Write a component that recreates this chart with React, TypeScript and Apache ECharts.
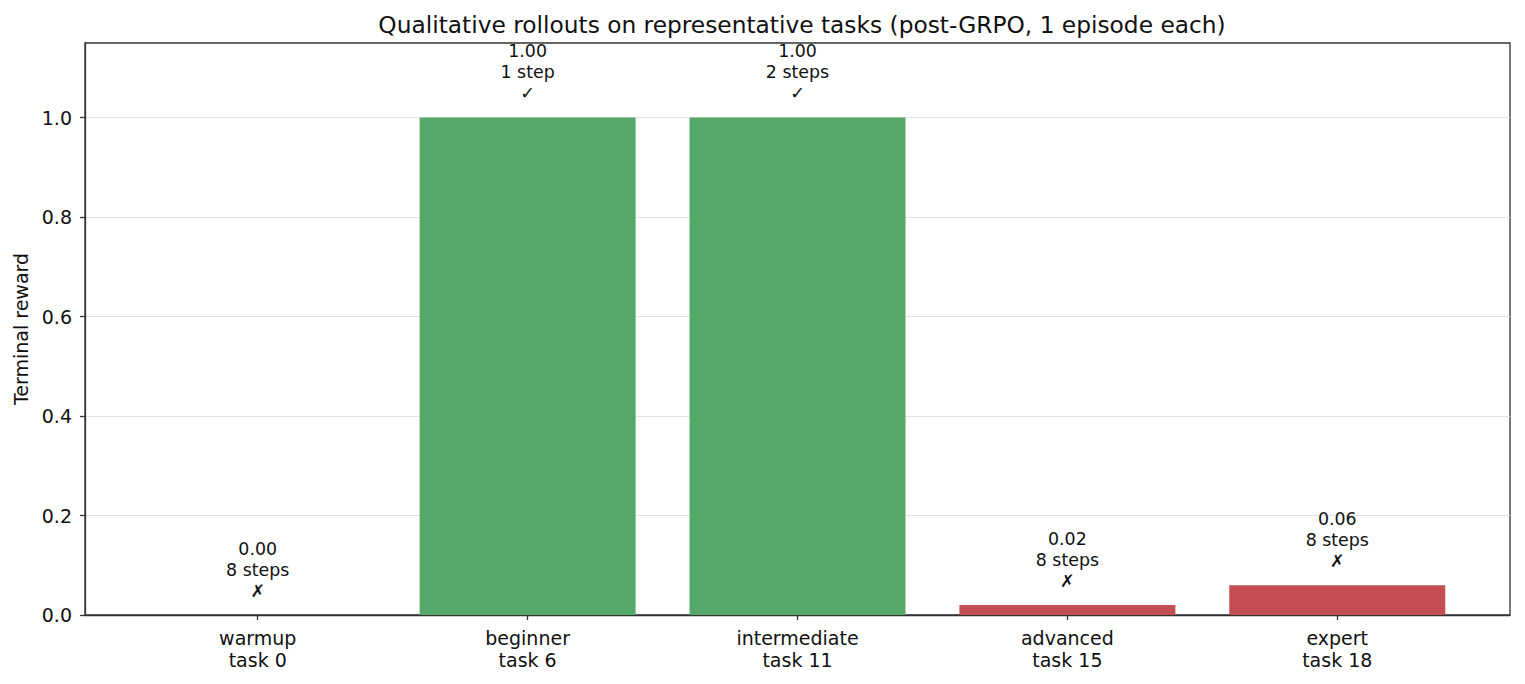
import React, { useRef, useEffect } from "react";
import * as echarts from "echarts";

const levels = ["warmup", "beginner", "intermediate", "advanced", "expert"];
const taskIds = [0, 6, 11, 15, 18];
const rewards = [0.0, 1.0, 1.0, 0.02, 0.06];
const steps = [8, 1, 2, 8, 8];
const solved = [false, true, true, false, false];
const yTicks = [0, 0.2, 0.4, 0.6, 0.8, 1.0];
const xTicks = [0, 1, 2, 3, 4];

const FONT = "DejaVu Sans";
const GREEN = "#55a868";
const RED = "#c44e52";
const FRAME = "#333333";

function buildOption() {
  return {
    animation: false,
    backgroundColor: "#ffffff",
    textStyle: { fontFamily: FONT, color: "#111" },
    title: {
      text: "Qualitative rollouts on representative tasks (post-GRPO, 1 episode each)",
      left: 797,
      textAlign: "center",
      top: 8,
      textStyle: { fontFamily: FONT, fontSize: 23.3, fontWeight: "normal", color: "#111" },
    },
    grid: {
      left: 85,
      right: 15,
      top: 43,
      bottom: 69,
      show: true,
      borderColor: FRAME,
      borderWidth: 1.3,
      backgroundColor: "transparent",
    },
    xAxis: {
      type: "value",
      min: -0.64,
      max: 4.64,
      axisLine: { show: true, onZero: false, lineStyle: { color: FRAME, width: 1.3 } },
      axisTick: { show: true, length: 5, customValues: xTicks, lineStyle: { color: FRAME, width: 1.3 } },
      axisLabel: {
        customValues: xTicks,
        margin: 12,
        fontSize: 19,
        lineHeight: 22,
        color: "#111",
        fontFamily: FONT,
        formatter: (v: number) => {
          const i = Math.round(v);
          return `${levels[i]}\ntask ${taskIds[i]}`;
        },
      },
      splitLine: { show: false },
    },
    yAxis: {
      type: "value",
      min: 0,
      max: 1.15,
      interval: 0.2,
      name: "Terminal reward",
      nameLocation: "middle",
      nameGap: 55,
      nameTextStyle: { fontFamily: FONT, fontSize: 19, color: "#111" },
      axisLine: { show: true, onZero: false, lineStyle: { color: FRAME, width: 1.3 } },
      axisTick: { show: true, length: 5, customValues: yTicks, lineStyle: { color: FRAME, width: 1.3 } },
      axisLabel: {
        customValues: yTicks,
        margin: 13,
        fontSize: 19,
        color: "#111",
        fontFamily: FONT,
        formatter: (v: number) => v.toFixed(1),
      },
      splitLine: { show: true, lineStyle: { color: "#e3e3e3", width: 1 } },
    },
    series: [
      {
        type: "bar",
        barWidth: 216,
        data: rewards.map((r, i) => ({
          value: [i, r],
          itemStyle: { color: solved[i] ? GREEN : RED },
        })),
        label: {
          show: true,
          position: "top",
          distance: 14,
          fontFamily: FONT,
          fontSize: 17.4,
          lineHeight: 21,
          color: "#111",
          align: "center",
          formatter: (p: any) => {
            const i = p.dataIndex;
            const s = steps[i] === 1 ? "step" : "steps";
            return `${rewards[i].toFixed(2)}\n${steps[i]} ${s}\n${solved[i] ? "✓" : "✗"}`;
          },
        },
      },
    ],
  };
}

export default function App() {
  const chartRef = useRef<HTMLDivElement>(null);

  useEffect(() => {
    if (!chartRef.current) return;
    const chart = echarts.init(chartRef.current, undefined, { renderer: "svg" });
    // eslint-disable-next-line @typescript-eslint/no-explicit-any
    chart.setOption(buildOption() as any);
    return () => chart.dispose();
  }, []);

  return (
    <div
      ref={chartRef}
      style={{ position: "fixed", left: 0, top: 0, width: 1525, height: 684, background: "#fff" }}
    />
  );
}
